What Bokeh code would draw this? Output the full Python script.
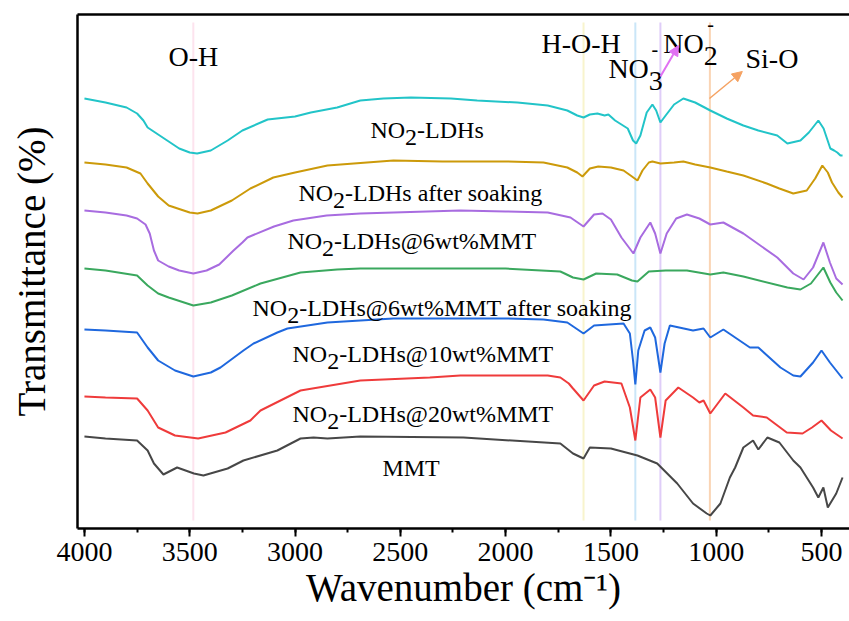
from bokeh.plotting import figure
from bokeh.models import (Range1d, LinearAxis, SingleIntervalTicker, FixedTicker,
                          ColumnDataSource, Arrow, NormalHead)
from bokeh.core.properties import value
from bokeh.embed import file_html
from bokeh.resources import INLINE

# ---------------- data (wavenumber cm-1, stacked transmittance, arb. units) -------------
wn_ldh = [4000, 3900, 3800, 3750, 3720, 3700, 3650, 3600, 3550, 3500, 3465, 3400, 3320, 3250,
          3130, 3000, 2925, 2800, 2690, 2580, 2450, 2260, 2135, 1944, 1800, 1707, 1660, 1630,
          1600, 1564, 1530, 1512, 1480, 1420, 1395, 1380, 1360, 1330, 1303, 1285, 1265, 1240,
          1200, 1156, 1100, 1028, 950, 871, 800, 710, 662, 600, 560, 515, 490, 458, 440, 425,
          410, 400]
t_ldh = [430, 426, 421, 415, 408, 401, 394, 387, 380, 376, 375, 378, 388, 398,
         409, 412, 416, 421, 428, 430, 431, 430, 428, 426, 423, 418, 413, 411,
         414, 415, 413, 414, 408, 400, 388, 385, 393, 416, 424, 418, 406, 413,
         424, 430, 426, 418, 410, 403, 398, 393, 385, 388, 396, 408, 400, 380, 378, 376,
         373, 373]

wn_soak = [4000, 3900, 3800, 3734, 3700, 3650, 3600, 3500, 3463, 3400, 3300, 3212, 3103, 3000,
           2846, 2533, 2300, 2000, 1820, 1707, 1660, 1635, 1600, 1560, 1500, 1440, 1400, 1374,
           1350, 1320, 1303, 1265, 1200, 1156, 1100, 1028, 950, 871, 760, 700, 634, 570, 530,
           496, 470, 450, 420, 400]
t_soak = [366, 364, 361, 355, 345, 332, 323, 316, 315, 318, 328, 340, 351, 356,
          363, 368, 367, 367, 366, 361, 356, 352, 360, 362, 361, 358, 352, 348,
          358, 366, 367, 365, 366, 367, 364, 361, 357, 353, 345, 340, 335, 338, 350,
          363, 356, 346, 336, 331]

wn_6 = [4000, 3900, 3800, 3750, 3710, 3690, 3670, 3650, 3600, 3550, 3483, 3420, 3360, 3292,
        3250, 3226, 3100, 3008, 2850, 2690, 2215, 2000, 1800, 1692, 1630, 1580, 1540, 1500,
        1450, 1393, 1360, 1313, 1290, 1265, 1235, 1190, 1139, 1080, 1028, 966, 871, 710, 634,
        585, 540, 491, 460, 430, 400]
t_6 = [318, 316, 313, 310, 304, 295, 278, 268, 262, 258, 255, 258, 264, 278,
       286, 291, 302, 308, 313, 315, 318, 317, 316, 311, 302, 314, 315, 309,
       291, 275, 291, 306, 295, 275, 295, 310, 314, 310, 304, 306, 295, 271, 255,
       249, 261, 286, 266, 250, 244]

wn_6s = [4000, 3900, 3750, 3700, 3650, 3600, 3483, 3400, 3300, 3164, 2974, 2800, 2690, 2200,
         2000, 1740, 1680, 1630, 1570, 1470, 1400, 1374, 1320, 1240, 1139, 1028, 966, 871, 662,
         600, 550, 491, 458, 430, 400]
t_6s = [260, 258, 253, 243, 235, 231, 223, 226, 233, 245, 256, 259, 260, 260,
        260, 257, 251, 249, 255, 254, 248, 247, 257, 258, 258, 254, 256, 252, 241,
        239, 245, 261, 246, 236, 228]

wn_10 = [4000, 3900, 3750, 3700, 3650, 3570, 3483, 3400, 3354, 3245, 3197, 3084, 3036, 2846,
         2533, 2000, 1820, 1707, 1630, 1580, 1440, 1410, 1395, 1384, 1370, 1340, 1313, 1290,
         1265, 1245, 1220, 1110, 1060, 1028, 966, 840, 800, 695, 634, 600, 540, 500, 460, 430,
         400]
t_10 = [199, 198, 196, 181, 168, 158, 152, 156, 161, 178, 185, 196, 200, 206,
        210, 210, 209, 206, 195, 203, 205, 195, 168, 144, 178, 198, 201, 191,
        156, 185, 203, 198, 200, 191, 199, 181, 181, 161, 153, 152, 166, 178, 166, 158,
        150]

wn_20 = [4000, 3900, 3750, 3700, 3650, 3570, 3460, 3330, 3212, 3164, 2974, 2690, 2360, 2215,
         1800, 1740, 1700, 1680, 1630, 1580, 1530, 1450, 1410, 1384, 1360, 1313, 1290, 1265,
         1240, 1180, 1110, 1080, 1060, 1028, 957, 871, 825, 760, 665, 590, 545, 500, 455, 400]
t_20 = [132, 131, 130, 118, 101, 93, 90, 96, 108, 118, 138, 148, 151, 153,
        153, 151, 145, 140, 128, 143, 147, 145, 121, 88, 131, 139, 131, 91,
        128, 141, 131, 126, 128, 115, 135, 121, 113, 111, 96, 95, 101, 108, 98, 90]

wn_mmt = [4000, 3900, 3750, 3700, 3670, 3625, 3560, 3480, 3435, 3320, 3245, 3084, 2974, 2912,
          2846, 2690, 2200, 1740, 1680, 1630, 1600, 1500, 1374, 1280, 1185, 1110, 1045, 1028,
          980, 935, 910, 871, 825, 800, 757, 700, 634, 600, 540, 515, 491, 470, 430, 400]
t_mmt = [92, 90, 88, 78, 65, 54, 61, 55, 53, 60, 68, 78, 90, 91,
         90, 92, 91, 85, 75, 70, 81, 80, 73, 65, 45, 25, 15, 13,
         25, 51, 61, 81, 88, 79, 91, 86, 68, 61, 41, 31, 41, 21, 35, 51]

series_wn = [wn_ldh, wn_soak, wn_6, wn_6s, wn_10, wn_20, wn_mmt]
series_t = [t_ldh, t_soak, t_6, t_6s, t_10, t_20, t_mmt]
series_colors = ["#22c4c8", "#cc9a0a", "#a86ce0", "#3aa85e", "#1f68de", "#ef3b3b", "#474747"]

# curve labels: "NO" + subscript "2" + rest
label_rest = ["-LDHs", "-LDHs after soaking", "-LDHs@6wt%MMT", "-LDHs@6wt%MMT after soaking",
              "-LDHs@10wt%MMT", "-LDHs@20wt%MMT"]
label_x = [2642, 2984, 3036, 3202, 3012, 3012]
label_y = [399, 336, 288, 221, 175, 115]
mmt_label = "MMT"
mmt_x, mmt_y = 2585, 61

# band assignments
band_wn = [3483, 1630, 1384, 1265, 1030]
band_colors = ["#fde3ee", "#f8f4cd", "#cae6f8", "#dfcdf8", "#fad4b4"]
band_y0, band_y1 = 8, 506

# ---------------- figure ----------------
p = figure(width=849, height=621, output_backend="svg", toolbar_location=None,
           x_range=Range1d(4033, 367), y_range=Range1d(0, 514),
           min_border_left=77, min_border_right=0, min_border_top=14, min_border_bottom=93)
p.grid.visible = False
p.outline_line_color = None

FONT = "Liberation Serif"

# band lines
p.segment(x0=band_wn, y0=[band_y0] * 5, x1=band_wn, y1=[band_y1] * 5,
          line_color=band_colors, line_width=2)

for wn, t, c in zip(series_wn, series_t, series_colors):
    p.line(wn, t, line_color=c, line_width=2)

# curve labels as pieces
fs = 24
xs, ys, txt, xo, yo = [], [], [], [], []
for rest, lx, ly in zip(label_rest, label_x, label_y):
    xs += [lx, lx, lx]
    ys += [ly, ly, ly]
    txt += ["NO", "2", rest]
    xo += [0, 1.444 * fs, 1.944 * fs]
    yo += [0, 8, 0]
xs.append(mmt_x); ys.append(mmt_y); txt.append(mmt_label); xo.append(0); yo.append(0)
src = ColumnDataSource(dict(x=xs, y=ys, text=txt, xo=xo, yo=yo))
p.text(x="x", y="y", text="text", x_offset="xo", y_offset="yo", source=src,
       text_font=value(FONT), text_font_size=f"{fs}px", text_color="black",
       text_align="left", text_baseline="alphabetic")

# band annotations
afs = 28
ann_x = [3601, 1830, 861]
ann_y = [472, 485, 470]
ann_t = ["O-H", "H-O-H", "Si-O"]
p.text(x=ann_x, y=ann_y, text=ann_t, text_font=value(FONT), text_font_size=f"{afs}px",
       text_color="black", text_align="left", text_baseline="alphabetic")

ion_x = [1512, 1251]
ion_y = [460, 485]
ion_sub = ["3", "2"]
src2 = ColumnDataSource(dict(x=ion_x + ion_x, y=ion_y + ion_y, text=["NO", "NO"] + ion_sub,
                             xo=[0, 0, 1.444 * afs, 1.444 * afs], yo=[0, 0, 12, 12]))
p.text(x="x", y="y", text="text", x_offset="xo", y_offset="yo", source=src2,
       text_font=value(FONT), text_font_size=f"{afs}px", text_color="black",
       text_align="left", text_baseline="alphabetic")
src3 = ColumnDataSource(dict(x=ion_x, y=ion_y, text=["-", "-"], xo=[43, 44], yo=[-20, -20]))
p.text(x="x", y="y", text="text", x_offset="xo", y_offset="yo", source=src3,
       text_font=value(FONT), text_font_size="20px", text_color="black",
       text_align="left", text_baseline="alphabetic")

# arrows
p.add_layout(Arrow(x_start=1265, y_start=452, x_end=1179, y_end=483,
                   line_color="#e070f2", line_width=2,
                   end=NormalHead(size=10, fill_color="#e070f2", line_color="#e070f2")))
p.add_layout(Arrow(x_start=1032, y_start=430, x_end=876, y_end=457,
                   line_color="#f5a262", line_width=1.5,
                   end=NormalHead(size=10, fill_color="#f5a262", line_color="#f5a262")))

# axes
xa = p.xaxis[0]
xa.ticker = SingleIntervalTicker(interval=500, num_minor_ticks=2)
xa.axis_line_width = 2.5
xa.major_tick_line_width = 2
xa.minor_tick_line_width = 2
xa.major_tick_out = 8
xa.major_tick_in = 0
xa.minor_tick_out = 4
xa.minor_tick_in = 0
xa.major_label_text_font = FONT
xa.major_label_text_font_size = "28px"
xa.major_label_text_color = "black"
xa.major_label_standoff = 6
xa.axis_label = "Wavenumber (cm\u207b\u00b9)"
xa.axis_label_text_font = FONT
xa.axis_label_text_font_size = "39px"
xa.axis_label_text_font_style = "normal"
xa.axis_label_text_color = "black"
xa.axis_label_standoff = 2

ya = p.yaxis[0]
ya.ticker = FixedTicker(ticks=[])
ya.axis_line_width = 2.5
ya.major_tick_out = 0
ya.major_tick_in = 0
ya.minor_tick_out = 0
ya.minor_tick_in = 0
ya.axis_label = "Transmittance (%)"
ya.axis_label_text_font = FONT
ya.axis_label_text_font_size = "39px"
ya.axis_label_text_font_style = "normal"
ya.axis_label_text_color = "black"
ya.axis_label_standoff = 25

top = LinearAxis(ticker=FixedTicker(ticks=[]), major_tick_out=0, major_tick_in=0,
                 minor_tick_out=0, minor_tick_in=0, axis_line_width=2.5,
                 major_label_text_font_size="0px")
p.add_layout(top, "above")

open("out.html", "w").write(file_html(p, INLINE))
